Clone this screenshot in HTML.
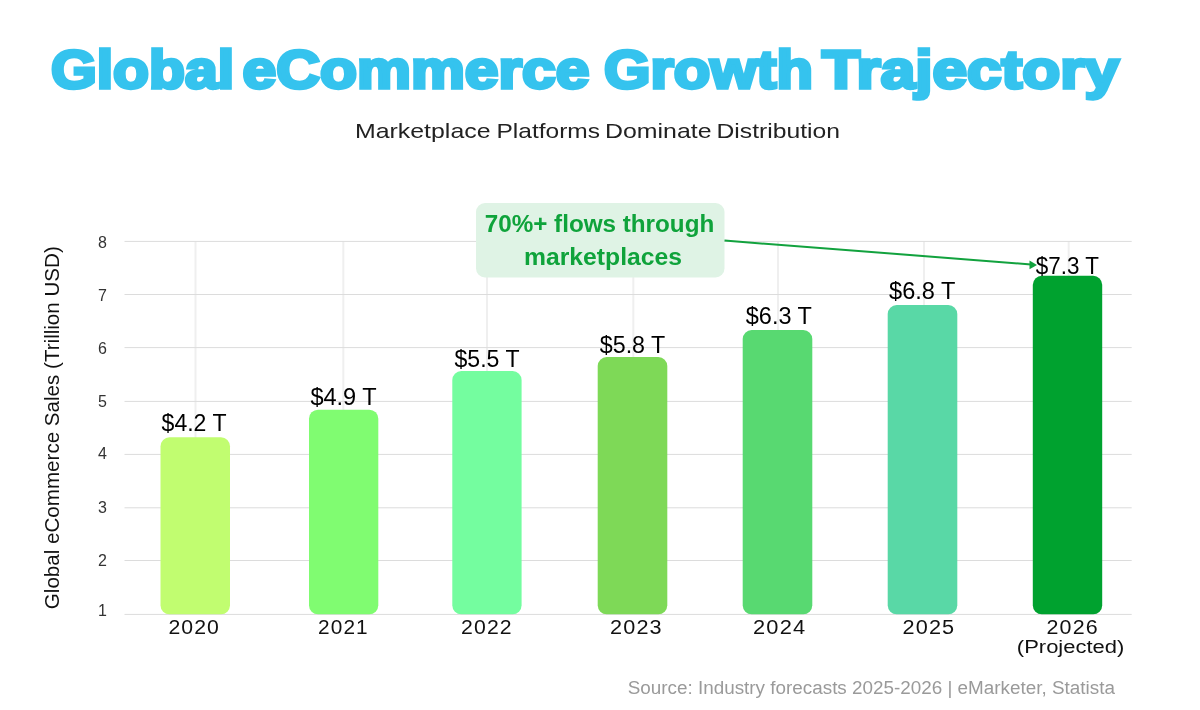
<!DOCTYPE html>
<html><head><meta charset="utf-8">
<style>
html,body{margin:0;padding:0;background:#fff;}
body{width:1200px;height:710px;overflow:hidden;font-family:"Liberation Sans",sans-serif;}
svg{display:block;will-change:transform;}
text{font-family:"Liberation Sans",sans-serif;}
</style></head><body>
<svg width="1200" height="710" viewBox="0 0 1200 710">
<rect width="1200" height="710" fill="#ffffff"/>
<!-- title -->
<g id="title" font-size="53" font-weight="bold" fill="#35c3ee" stroke="#35c3ee" stroke-width="3.4" stroke-linejoin="miter" stroke-miterlimit="3">
<text x="51" y="87.7" textLength="183" lengthAdjust="spacingAndGlyphs">Global</text>
<text x="242.5" y="87.7" textLength="347" lengthAdjust="spacingAndGlyphs">eCommerce</text>
<text x="604" y="87.7" textLength="209" lengthAdjust="spacingAndGlyphs">Growth</text>
<text x="822" y="87.7" textLength="297" lengthAdjust="spacingAndGlyphs">Trajectory</text>
</g>
<g id="sub" font-size="20.8" fill="#222">
<text x="355" y="137.6" textLength="135.5" lengthAdjust="spacingAndGlyphs">Marketplace</text>
<text x="496.5" y="137.6" textLength="103.5" lengthAdjust="spacingAndGlyphs">Platforms</text>
<text x="605" y="137.6" textLength="106.5" lengthAdjust="spacingAndGlyphs">Dominate</text>
<text x="716.5" y="137.6" textLength="123.5" lengthAdjust="spacingAndGlyphs">Distribution</text>
</g>
<!-- grid -->
<g stroke="#efefef" stroke-width="2">
<line x1="195.5" y1="241" x2="195.5" y2="614"/>
<line x1="343.3" y1="241" x2="343.3" y2="614"/>
<line x1="487" y1="241" x2="487" y2="614"/>
<line x1="633.3" y1="241" x2="633.3" y2="614"/>
<line x1="778" y1="241" x2="778" y2="614"/>
<line x1="924" y1="241" x2="924" y2="614"/>
<line x1="1068.7" y1="241" x2="1068.7" y2="614"/>
</g>
<g stroke="#dcdcdc" stroke-width="1">
<line x1="124.5" y1="241.4" x2="1131.7" y2="241.4"/>
<line x1="124.5" y1="294.5" x2="1131.7" y2="294.5"/>
<line x1="124.5" y1="347.6" x2="1131.7" y2="347.6"/>
<line x1="124.5" y1="401.4" x2="1131.7" y2="401.4"/>
<line x1="124.5" y1="454.4" x2="1131.7" y2="454.4"/>
<line x1="124.5" y1="507.8" x2="1131.7" y2="507.8"/>
<line x1="124.5" y1="560.5" x2="1131.7" y2="560.5"/>
<line x1="124.5" y1="614.4" x2="1131.7" y2="614.4"/>
</g>
<!-- ticks -->
<g font-size="16" fill="#333" text-anchor="middle">
<text x="102.5" y="247.6">8</text>
<text x="102.5" y="300.7">7</text>
<text x="102.5" y="353.8">6</text>
<text x="102.5" y="407">5</text>
<text x="102.5" y="459">4</text>
<text x="102.5" y="512.5">3</text>
<text x="102.5" y="565.5">2</text>
<text x="102.5" y="616">1</text>
</g>
<!-- y label -->
<text transform="translate(58.6,427.7) rotate(-90)" font-size="20.5" fill="#111" text-anchor="middle" textLength="363" lengthAdjust="spacingAndGlyphs">Global eCommerce Sales (Trillion USD)</text>
<!-- bars -->
<rect x="160.5" y="437.3" width="69.5" height="177" rx="9" fill="#c1fd70"/>
<rect x="309" y="409.7" width="69.3" height="204.6" rx="9" fill="#80fc71"/>
<rect x="452.3" y="371" width="69.3" height="243.3" rx="9" fill="#74fd9f"/>
<rect x="597.7" y="357" width="69.6" height="257.3" rx="9" fill="#7ed957"/>
<rect x="742.7" y="330" width="69.6" height="284.3" rx="9" fill="#58d971"/>
<rect x="887.7" y="305" width="69.6" height="309.3" rx="9" fill="#59d8a6"/>
<rect x="1032.8" y="275.8" width="69.4" height="338.5" rx="9" fill="#00a22f"/>
<!-- bar labels -->
<g font-size="23.3" fill="#000">
<text x="161.6" y="430.8" textLength="64.9" lengthAdjust="spacingAndGlyphs">$4.2 T</text>
<text x="310.4" y="404.6" textLength="66.3" lengthAdjust="spacingAndGlyphs">$4.9 T</text>
<text x="454.5" y="366.7" textLength="65.0" lengthAdjust="spacingAndGlyphs">$5.5 T</text>
<text x="599.8" y="352.5" textLength="65.5" lengthAdjust="spacingAndGlyphs">$5.8 T</text>
<text x="745.8" y="324.3" textLength="66.1" lengthAdjust="spacingAndGlyphs">$6.3 T</text>
<text x="889.1" y="299.3" textLength="66.4" lengthAdjust="spacingAndGlyphs">$6.8 T</text>
<text x="1035.8" y="273.8" textLength="63.1" lengthAdjust="spacingAndGlyphs">$7.3 T</text>
</g>
<!-- x labels -->
<g font-size="19.5" fill="#111" letter-spacing="1">
<text x="168.4" y="634.2" textLength="51.6" lengthAdjust="spacingAndGlyphs">2020</text>
<text x="318.1" y="634.2" textLength="50.6" lengthAdjust="spacingAndGlyphs">2021</text>
<text x="461.1" y="634.2" textLength="51.6" lengthAdjust="spacingAndGlyphs">2022</text>
<text x="610.1" y="634.2" textLength="52.6" lengthAdjust="spacingAndGlyphs">2023</text>
<text x="753.1" y="634.2" textLength="53.1" lengthAdjust="spacingAndGlyphs">2024</text>
<text x="902.6" y="634.2" textLength="52.6" lengthAdjust="spacingAndGlyphs">2025</text>
<text x="1046.6" y="634.2" textLength="52.1" lengthAdjust="spacingAndGlyphs">2026</text>
</g>
<text x="1070.6" y="653.2" font-size="18.7" fill="#111" text-anchor="middle" textLength="107.5" lengthAdjust="spacingAndGlyphs">(Projected)</text>
<!-- annotation -->
<rect x="476" y="203" width="248.5" height="74.5" rx="9" fill="#dff3e5"/>
<g font-size="23" font-weight="bold" fill="#0fa33b" text-anchor="middle">
<text x="599.5" y="231.6" textLength="229.5" lengthAdjust="spacingAndGlyphs">70%+ flows through</text>
<text x="603" y="264.8" textLength="158" lengthAdjust="spacingAndGlyphs">marketplaces</text>
</g>
<line x1="724.5" y1="240.6" x2="1031" y2="264.4" stroke="#12a23e" stroke-width="2"/>
<polygon points="1037,264.9 1029.5,260.5 1029.5,269.3" fill="#12a23e"/>
<!-- source -->
<text x="627.7" y="693.8" font-size="18" fill="#9a9a9a" textLength="487.2" lengthAdjust="spacingAndGlyphs">Source: Industry forecasts 2025-2026 | eMarketer, Statista</text>
</svg>
</body></html>
